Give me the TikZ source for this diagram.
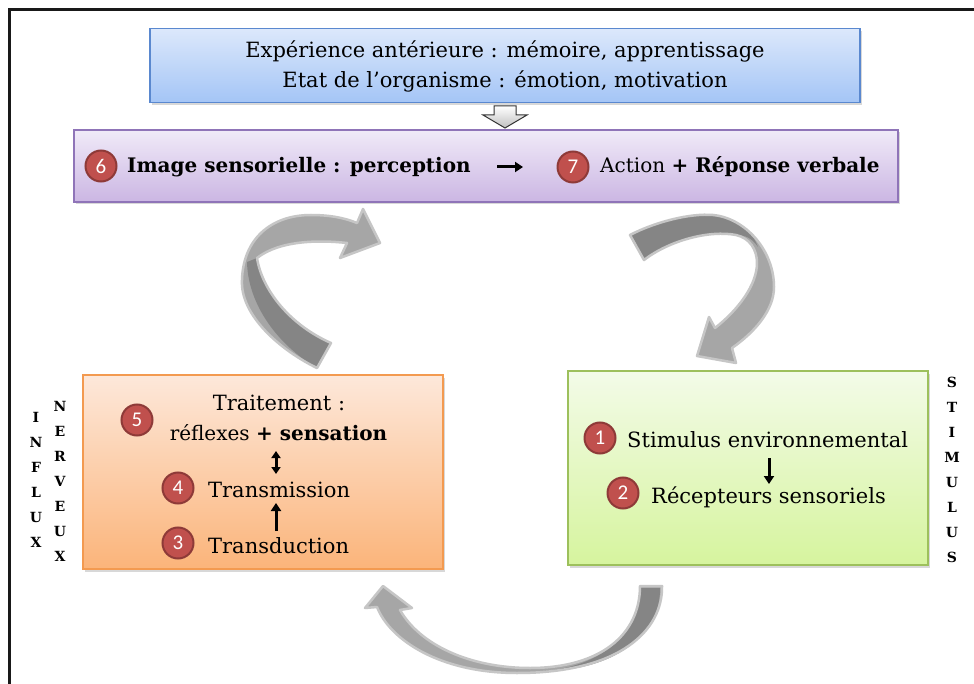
\documentclass[tikz,border=0pt]{standalone}
\usepackage{fontspec}
\setmainfont{DejaVu Serif}
\newfontfamily\numfont{Carlito}
\usetikzlibrary{arrows.meta,shadows}

\definecolor{exptop}{HTML}{DCE8FB}
\definecolor{expbot}{HTML}{A4C5F6}
\definecolor{expedge}{HTML}{5A88CF}
\definecolor{imgtop}{HTML}{F0EAF8}
\definecolor{imgbot}{HTML}{CBB6E3}
\definecolor{imgedge}{HTML}{8F74B8}
\definecolor{trttop}{HTML}{FDE8DA}
\definecolor{trtbot}{HTML}{FBB47A}
\definecolor{trtedge}{HTML}{F39A50}
\definecolor{stmtop}{HTML}{F3FBE8}
\definecolor{stmbot}{HTML}{D6F49E}
\definecolor{stmedge}{HTML}{9DC05C}
\definecolor{numred}{HTML}{C0504D}
\definecolor{numedge}{HTML}{8E3A38}
\definecolor{arrowlight}{HTML}{A6A6A6}
\definecolor{arrowdark}{HTML}{858585}
\definecolor{arrowedge}{HTML}{C6C6C6}

\tikzset{
  box/.style={line width=1.2pt, inner sep=0pt,
    drop shadow={shadow xshift=1.5pt, shadow yshift=-2.5pt, opacity=.3}},
  numdot/.style={circle, fill=numred, draw=numedge, line width=2pt,
    minimum size=31pt, inner sep=0pt, text=white,
    font=\numfont\fontsize{21}{21}\selectfont},
  txt/.style={inner sep=0pt, font=\fontsize{21}{25}\selectfont},
  txtb/.style={inner sep=0pt, font=\fontsize{20}{25}\selectfont},
  vert/.style={inner sep=0pt, align=center, font=\bfseries\fontsize{14}{25}\selectfont},
  minor/.style={line width=3pt, -{Triangle[length=8pt,width=10pt]}},
  bigedge/.style={draw=arrowedge, line width=2.5pt, line join=round},
  hollow/.style={draw=black!80, line width=1pt, top color=white, bottom color=black!25},
}

\begin{document}
\begin{tikzpicture}[x=1pt,y=-1pt]
\useasboundingbox (0,0) rectangle (974,684);
\clip (0,0) rectangle (974,684);
\fill[white] (0,0) rectangle (974,684);
\draw[line width=3pt, black!90] (9.5,9.5) rectangle (1000,720);

% boxes
\node[box, draw=expedge, top color=exptop, bottom color=expbot,
  minimum width=710pt, minimum height=74pt] (exp) at (505,65.5) {};
\node[box, draw=imgedge, top color=imgtop, bottom color=imgbot,
  minimum width=824pt, minimum height=72pt] (img) at (486,166) {};
\node[box, draw=trtedge, top color=trttop, bottom color=trtbot,
  minimum width=360pt, minimum height=194pt] (trt) at (263,472) {};
\node[box, draw=stmedge, top color=stmtop, bottom color=stmbot,
  minimum width=360pt, minimum height=194pt] (stm) at (748,468) {};

% top box
\node[txt, anchor=base] (exp1) at (505,58) {Expérience antérieure : mémoire, apprentissage};
\node[txt, anchor=base] (exp2) at (505,88) {Etat de l’organisme : émotion, motivation};
\draw[hollow] (494,106) -- (516,106) -- (516,115) -- (527,115) -- (505,128)
  -- (483,115) -- (494,115) -- cycle;

% perception line
\node[numdot] (n6) at (101,166) {6};
\node[txtb, anchor=base west] (percep) at (127,173) {\bfseries Image sensorielle : perception};
\node[numdot] (n7) at (573,167) {7};
\node[txtb, anchor=base west] (action) at (600,173) {Action \textbf{+ Réponse verbale}};
\coordinate (a1) at (497,167);
\coordinate (a2) at (523,167);
\draw[minor] (a1) -- (a2);

% traitement
\node[txt, anchor=base] (trait) at (279,410) {Traitement :};
\node[txtb, anchor=base] (reflex) at (278.5,440) {réflexes \textbf{+ sensation}};
\node[numdot] (n5) at (137,420) {5};
\node[numdot] (n4) at (178,488) {4};
\node[txt, anchor=base west] (transm) at (208,497) {Transmission};
\node[numdot] (n3) at (178,543) {3};
\node[txt, anchor=base west] (transd) at (208,553) {Transduction};
\coordinate (d1) at (276,451);
\coordinate (d2) at (276,474);
\draw[minor, {Triangle[length=7pt,width=9pt]}-{Triangle[length=7pt,width=9pt]}] (d1) -- (d2);
\coordinate (u1) at (276,531);
\coordinate (u2) at (276,503);
\draw[minor] (u1) -- (u2);

% stimulus
\node[numdot] (n1) at (600,438) {1};
\node[txt, anchor=base west] (stimenv) at (627,447) {Stimulus environnemental};
\node[numdot] (n2) at (623,493) {2};
\node[txt, anchor=base west] (recep) at (651,503) {Récepteurs sensoriels};
\coordinate (g1) at (769,458);
\coordinate (g2) at (769,484);
\draw[minor] (g1) -- (g2);

% vertical words
\node[vert] (influx) at (36,480) {I\\N\\F\\L\\U\\X};
\node[vert] (nerveux) at (60,481) {N\\E\\R\\V\\E\\U\\X};
\node[vert] (stimulus) at (952,470) {S\\T\\I\\M\\U\\L\\U\\S};

% curved arrow up (left)
\fill[arrowlight] (317,368) .. controls (280,350) and (240,315) .. (242,280)
  .. controls (243,240) and (270,215) .. (311,215) .. controls (330,215) and (345,218) .. (357,223)
  -- (363,209) -- (380,243) -- (340,258) -- (347,243)
  .. controls (320,240) and (280,240) .. (257,258)
  .. controls (262,290) and (290,325) .. (331,343) -- cycle;
\fill[arrowdark] (247,262) .. controls (248,305) and (278,345) .. (317,368) -- (331,343)
  .. controls (290,325) and (262,290) .. (257,258) -- cycle;
\draw[bigedge] (317,368) .. controls (280,350) and (240,315) .. (242,280)
  .. controls (243,240) and (270,215) .. (311,215) .. controls (330,215) and (345,218) .. (357,223)
  -- (363,209) -- (380,243) -- (340,258) -- (347,243)
  .. controls (320,240) and (280,240) .. (257,258)
  .. controls (262,290) and (290,325) .. (331,343) -- cycle;

% curved arrow down (right)
\fill[arrowlight] (630,235) .. controls (655,222) and (690,213) .. (713,215)
  .. controls (745,218) and (774,250) .. (774,287) .. controls (774,310) and (755,332) .. (732,348)
  -- (736,363) -- (697,356) -- (709,317) -- (715,328)
  .. controls (738,310) and (757,285) .. (757,263) .. controls (757,250) and (750,238) .. (736,235)
  .. controls (710,230) and (670,240) .. (644,260) -- cycle;
\fill[arrowdark] (630,235) .. controls (655,222) and (690,213) .. (713,215)
  .. controls (735,217) and (752,230) .. (758,247) .. controls (752,238) and (745,235) .. (736,235)
  .. controls (710,230) and (670,240) .. (644,260) -- cycle;
\draw[bigedge] (630,235) .. controls (655,222) and (690,213) .. (713,215)
  .. controls (745,218) and (774,250) .. (774,287) .. controls (774,310) and (755,332) .. (732,348)
  -- (736,363) -- (697,356) -- (709,317) -- (715,328)
  .. controls (738,310) and (757,285) .. (757,263) .. controls (757,250) and (750,238) .. (736,235)
  .. controls (710,230) and (670,240) .. (644,260) -- cycle;

% curved arrow back (bottom)
\fill[arrowlight] (640,586) -- (662,586) .. controls (663,630) and (620,673) .. (517,673)
  .. controls (440,673) and (390,640) .. (377,607)
  -- (365,608) -- (383,586) -- (412,608) -- (400,610)
  .. controls (420,645) and (470,668) .. (530,668) .. controls (600,668) and (640,635) .. (640,586) -- cycle;
\fill[arrowdark] (640,588) -- (660,588) .. controls (661,630) and (620,670) .. (545,671)
  .. controls (600,666) and (640,635) .. (640,588) -- cycle;
\draw[bigedge] (640,586) -- (662,586) .. controls (663,630) and (620,673) .. (517,673)
  .. controls (440,673) and (390,640) .. (377,607)
  -- (365,608) -- (383,586) -- (412,608) -- (400,610)
  .. controls (420,645) and (470,668) .. (530,668) .. controls (600,668) and (640,635) .. (640,586) -- cycle;
\end{tikzpicture}
\end{document}
